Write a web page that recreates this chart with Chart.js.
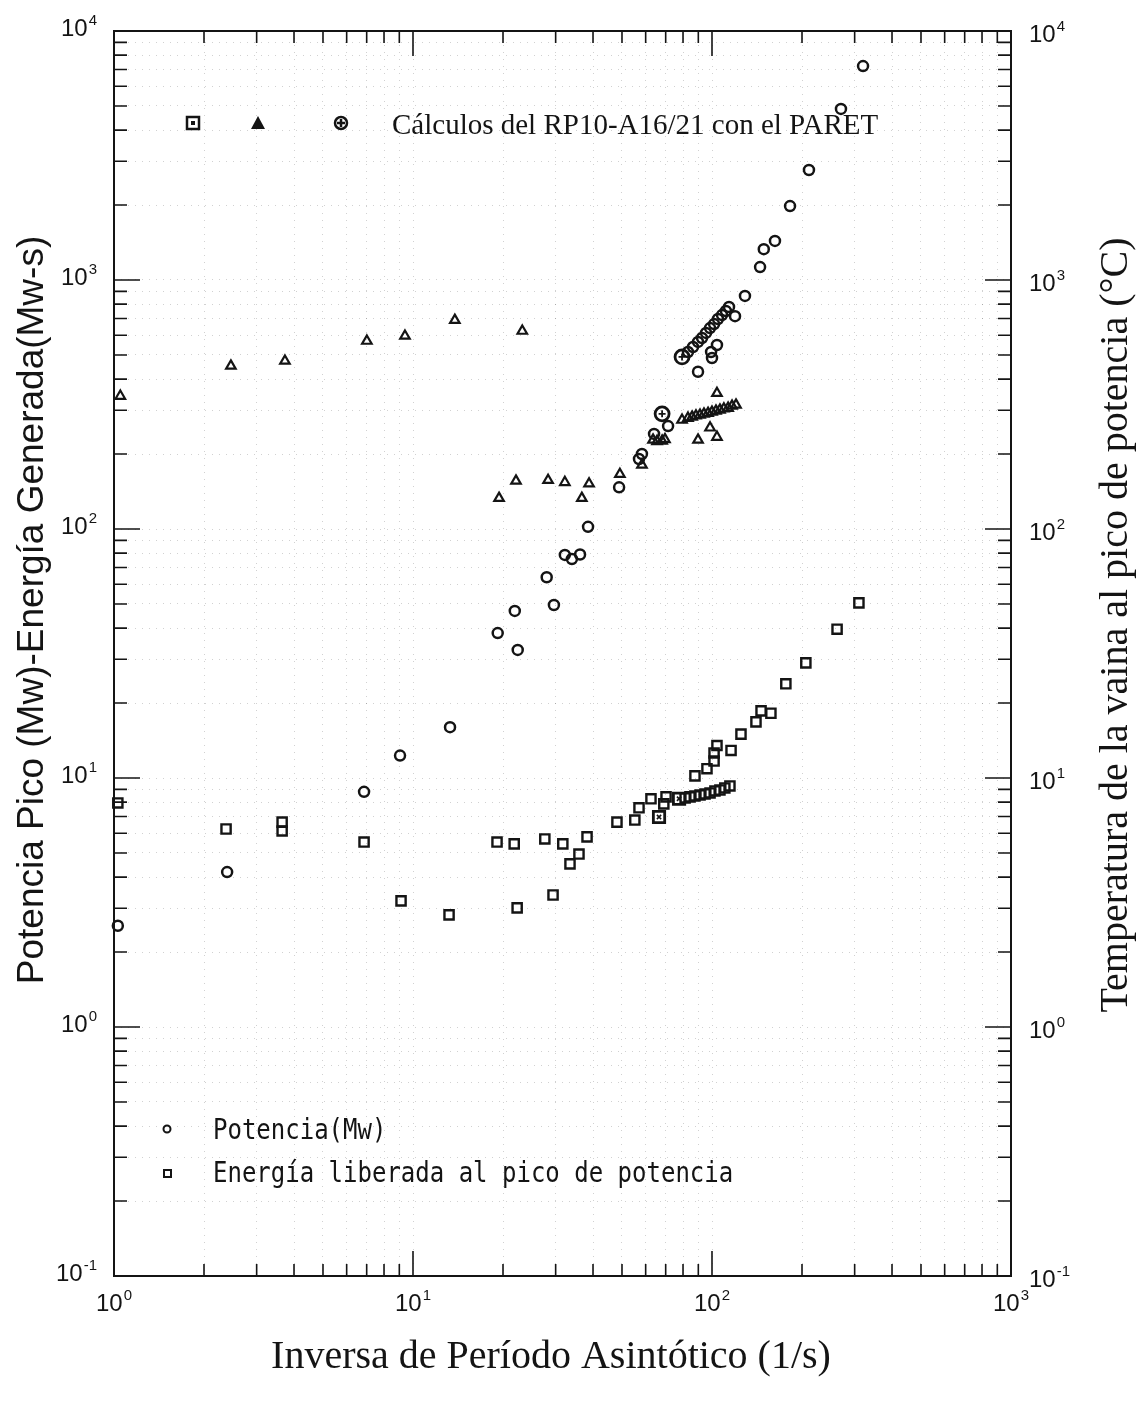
<!DOCTYPE html>
<html>
<head>
<meta charset="utf-8">
<script src="https://cdn.jsdelivr.net/npm/chart.js@4.4.1/dist/chart.umd.min.js"></script>
<style>
  html, body { margin: 0; padding: 0; background: #fff; }
  canvas { display: block; }
</style>
</head>
<body>
<canvas id="paret-chart" width="1148" height="1401"></canvas>
<script>
// Potencia pico (Mw) vs inversa del periodo
const potenciaX = [1.03, 2.39, 6.86, 9.05, 13.3, 19.2, 21.9, 22.4, 28.0, 29.6, 32.2, 34.0, 36.2, 38.5,
  48.9, 57.0, 58.3, 64.0, 71.3, 89.8, 100, 99.3, 103.9,
  83.1, 86.4, 89.8, 92.6, 95.5, 98.5, 101.6, 104.7, 108.0, 111.3, 114.0,
  119.4, 128.9, 144.8, 149, 162.4, 182.4, 211, 270, 320];
const potenciaY = [2.55, 4.19, 8.8, 12.3, 16.0, 38.2, 46.9, 32.7, 64, 49.5, 78.7, 75.8, 79, 102,
  147, 191, 200, 241, 259, 428, 486, 514, 548,
  514, 538, 564, 585, 613, 641, 665, 697, 723, 751, 779,
  716, 863, 1127, 1330, 1435, 1981, 2766, 4864, 7230];

// Energia liberada al pico de potencia (Mw-s)
const energiaX = [1.03, 2.37, 3.65, 3.65, 6.86, 9.12, 13.2, 19.1, 21.8, 22.3, 27.6, 29.4, 31.7, 33.5,
  35.9, 38.2, 48.1, 55.2, 57.0, 62.5, 69.0, 70.2,
  81.3, 84.4, 87.7, 91.2, 94.8, 98.5, 102.3, 106.3, 110.4, 114.8,
  87.7, 96.2, 101.6, 101.6, 103.9, 115.8, 125.0, 140.3, 145.9, 157.4, 176.6, 206, 262, 310];
const energiaY = [7.94, 6.24, 6.65, 6.13, 5.53, 3.21, 2.82, 5.53, 5.44, 3.01, 5.69, 3.39, 5.44, 4.52,
  4.95, 5.80, 6.65, 6.78, 7.59, 8.25, 7.87, 8.40,
  8.32, 8.40, 8.47, 8.55, 8.63, 8.71, 8.87, 8.95, 9.12, 9.29,
  10.2, 10.9, 11.7, 12.6, 13.5, 12.9, 15.0, 16.8, 18.6, 18.2, 23.9, 29.0, 39.6, 50.5];

// Temperatura de la vaina (C), eje derecho
const temperaturaX = [1.05, 2.46, 3.73, 7.01, 9.40, 13.8, 23.2, 19.4, 22.1, 28.3, 32.2, 36.7, 38.8,
  49.2, 58.3, 63.5, 65.5, 68.1, 69.6, 79.4,
  83.1, 85.8, 88.4, 91.2, 94.0, 97.0, 100, 103.1, 106.3, 109.6, 113.2, 116.7, 120.3,
  103.9, 98.5, 103.9, 89.8];
const temperaturaY = [342, 452, 473, 569, 596, 690, 624, 133, 156, 157, 154, 133, 152,
  166, 181, 228, 225, 226, 229, 274,
  279, 282, 285, 287, 290, 292, 295, 298, 301, 304, 306, 312, 315,
  351, 255, 234, 228];

// Calculos PARET (marcas resaltadas)
const paretPotX = [68.1, 79.4];
const paretPotY = [290, 491];
const paretEneX = [66.5, 77.6];
const paretEneY = [6.97, 8.25];

const xDecades = [1, 10, 100, 1000];
const yDecades = [0.1, 1, 10, 100, 1000, 10000];
const xTickExps = ["0", "1", "2", "3"];
const yTickExps = ["-1", "0", "1", "2", "3", "4"];

const toPoints = (xs, ys) => xs.map((x, i) => ({ x: x, y: ys[i] }));

const logTicks = (decades) => {
  const ticks = [];
  decades.forEach((d, i) => {
    ticks.push(d);
    if (i < decades.length - 1) {
      for (let m = 2; m <= 9; m++) ticks.push(d * m);
    }
  });
  return ticks;
};

const isDecade = (v) => Math.abs(Math.log10(v) - Math.round(Math.log10(v))) < 1e-9;
const ink = "#141414";

// Draw "10" with a superscript exponent
const drawPow = (ctx, exp, x, y, align) => {
  ctx.font = "24px 'Liberation Sans', Arial, sans-serif";
  const wBase = ctx.measureText("10").width;
  ctx.font = "15px 'Liberation Sans', Arial, sans-serif";
  const wExp = ctx.measureText(exp).width + 1;
  let x0 = x;
  if (align === "right") x0 = x - wBase - wExp;
  if (align === "center") x0 = x - (wBase + wExp) / 2;
  ctx.textAlign = "left";
  ctx.textBaseline = "alphabetic";
  ctx.font = "24px 'Liberation Sans', Arial, sans-serif";
  ctx.fillText("10", x0, y + 9);
  ctx.font = "15px 'Liberation Sans', Arial, sans-serif";
  ctx.fillText(exp, x0 + wBase + 1, y - 2);
};

const decorPlugin = {
  id: "decor",
  beforeDraw(chart) {
    const ctx = chart.ctx;
    ctx.save();
    ctx.fillStyle = "#fff";
    ctx.fillRect(0, 0, chart.width, chart.height);
    ctx.restore();
  },
  afterDraw(chart) {
    const ctx = chart.ctx;
    const { left, right, top, bottom } = chart.chartArea;
    const xs = chart.scales.x;
    const ys = chart.scales.y;
    ctx.save();
    ctx.strokeStyle = ink;
    ctx.fillStyle = ink;

    // inward ticks on all four sides
    ctx.lineWidth = 1.6;
    ctx.beginPath();
    xs.ticks.forEach((t) => {
      const px = xs.getPixelForValue(t.value);
      const len = isDecade(t.value) ? 25 : 12;
      ctx.moveTo(px, bottom);
      ctx.lineTo(px, bottom - len);
      ctx.moveTo(px, top);
      ctx.lineTo(px, top + len);
    });
    ys.ticks.forEach((t) => {
      const py = ys.getPixelForValue(t.value);
      const len = isDecade(t.value) ? 26 : 13;
      ctx.moveTo(left, py);
      ctx.lineTo(left + len, py);
      ctx.moveTo(right, py);
      ctx.lineTo(right - len, py);
    });
    ctx.stroke();

    // frame
    ctx.lineWidth = 2;
    ctx.strokeRect(left, top, right - left, bottom - top);

    // tick labels
    xDecades.forEach((d, i) => {
      drawPow(ctx, xTickExps[i], xs.getPixelForValue(d), bottom + 26, "center");
    });
    yDecades.forEach((d, i) => {
      const py = ys.getPixelForValue(d);
      drawPow(ctx, yTickExps[i], left - 17, py - 4, "right");
      drawPow(ctx, yTickExps[i], right + 18, py + 2, "left");
    });

    // axis titles
    ctx.textAlign = "center";
    ctx.textBaseline = "middle";
    ctx.font = "40px 'Liberation Serif', 'Times New Roman', serif";
    ctx.fillText("Inversa de Período Asintótico (1/s)", 551, 1357);

    ctx.save();
    ctx.translate(33, 610);
    ctx.rotate(-Math.PI / 2);
    ctx.font = "37px 'Liberation Sans', Arial, sans-serif";
    ctx.fillText("Potencia Pico (Mw)-Energía Generada(Mw-s)", 0, 0);
    ctx.restore();

    ctx.save();
    ctx.translate(1116, 625);
    ctx.rotate(-Math.PI / 2);
    ctx.font = "40px 'Liberation Serif', 'Times New Roman', serif";
    ctx.fillText("Temperatura de la vaina al pico de potencia (°C)", 0, 0);
    ctx.restore();

    // upper legend (PARET)
    ctx.lineWidth = 2.5;
    ctx.strokeRect(187, 117, 12, 12);
    ctx.fillRect(191, 121, 4, 4);
    ctx.beginPath();
    ctx.moveTo(258, 116);
    ctx.lineTo(265, 129);
    ctx.lineTo(251, 129);
    ctx.closePath();
    ctx.fill();
    ctx.beginPath();
    ctx.arc(341, 123, 6, 0, Math.PI * 2);
    ctx.moveTo(337, 123);
    ctx.lineTo(345, 123);
    ctx.moveTo(341, 119);
    ctx.lineTo(341, 127);
    ctx.stroke();
    ctx.textAlign = "left";
    ctx.font = "29px 'Liberation Serif', 'Times New Roman', serif";
    ctx.fillText("Cálculos del RP10-A16/21 con el PARET", 392, 126);

    // lower legend
    ctx.lineWidth = 2;
    ctx.beginPath();
    ctx.arc(167, 1129, 3.5, 0, Math.PI * 2);
    ctx.stroke();
    ctx.strokeRect(164, 1170, 7, 7);
    ctx.font = "24px 'DejaVu Sans Mono', monospace";
    ctx.save();
    ctx.translate(213, 1132);
    ctx.scale(1, 1.2);
    ctx.fillText("Potencia(Mw)", 0, 0);
    ctx.restore();
    ctx.save();
    ctx.translate(213, 1175);
    ctx.scale(1, 1.2);
    ctx.fillText("Energía liberada al pico de potencia", 0, 0);
    ctx.restore();
    ctx.restore();
  },
};

const markerBase = {
  showLine: false,
  backgroundColor: "rgba(0,0,0,0)",
  borderColor: ink,
  clip: 10,
};

const chartEl = document.getElementById("paret-chart");
const chartInstance = new Chart(chartEl, {
  type: "scatter",
  data: {
    datasets: [
      { ...markerBase, label: "Potencia(Mw)", data: toPoints(potenciaX, potenciaY),
        pointStyle: "circle", pointRadius: 5, borderWidth: 2.5 },
      { ...markerBase, label: "Energía liberada al pico de potencia", data: toPoints(energiaX, energiaY),
        pointStyle: "rect", pointRadius: 6.5, borderWidth: 2.4 },
      { ...markerBase, label: "Temperatura", data: toPoints(temperaturaX, temperaturaY), yAxisID: "y2",
        pointStyle: "triangle", pointRadius: 5.5, borderWidth: 2.2 },
      { ...markerBase, label: "PARET potencia", data: toPoints(paretPotX, paretPotY),
        pointStyle: "circle", pointRadius: 7, borderWidth: 2.8 },
      { ...markerBase, label: "PARET potencia centro", data: toPoints(paretPotX, paretPotY),
        pointStyle: "cross", pointRadius: 3.5, borderWidth: 1.8 },
      { ...markerBase, label: "PARET energia", data: toPoints(paretEneX, paretEneY),
        pointStyle: "rect", pointRadius: 8, borderWidth: 2.8 },
      { ...markerBase, label: "PARET energia centro", data: toPoints(paretEneX, paretEneY),
        pointStyle: "crossRot", pointRadius: 3, borderWidth: 1.6 },
    ],
  },
  options: {
    responsive: false,
    animation: false,
    events: [],
    layout: { padding: { top: 31, left: 0, right: 0, bottom: 0 } },
    plugins: {
      legend: { display: false },
      tooltip: { enabled: false },
    },
    scales: {
      x: {
        type: "logarithmic",
        min: 1,
        max: 1000,
        afterBuildTicks: (scale) => {
          scale.ticks = logTicks(xDecades).map((v) => ({ value: v }));
        },
        afterFit: (scale) => { scale.height = 125; },
        ticks: { display: false },
        grid: { color: "rgba(0,0,0,0.18)", lineWidth: 1, drawTicks: false },
        border: { display: false, dash: [1, 6] },
      },
      y: {
        type: "logarithmic",
        position: "left",
        min: 0.1,
        max: 10000,
        afterBuildTicks: (scale) => {
          scale.ticks = logTicks(yDecades).map((v) => ({ value: v }));
        },
        afterFit: (scale) => { scale.width = 114; },
        ticks: { display: false },
        grid: { color: "rgba(0,0,0,0.18)", lineWidth: 1, drawTicks: false },
        border: { display: false, dash: [1, 6] },
      },
      y2: {
        type: "logarithmic",
        position: "right",
        min: 0.1,
        max: 10000,
        afterBuildTicks: (scale) => {
          scale.ticks = logTicks(yDecades).map((v) => ({ value: v }));
        },
        afterFit: (scale) => { scale.width = 137; },
        ticks: { display: false },
        grid: { display: false, drawTicks: false },
        border: { display: false },
      },
    },
  },
  plugins: [decorPlugin],
});
</script>
</body>
</html>
